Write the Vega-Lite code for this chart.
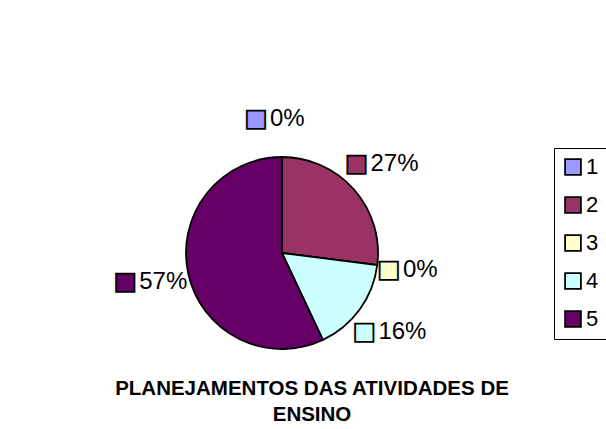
{
  "$schema": "https://vega.github.io/schema/vega-lite/v6.json",
  "width": 564,
  "height": 352,
  "autosize": {"type": "none"},
  "padding": {"left": 0, "top": 77, "right": 42, "bottom": 0},
  "background": "white",
  "config": {"view": {"stroke": null}, "font": "Liberation Sans"},
  "title": {
    "text": ["PLANEJAMENTOS DAS ATIVIDADES DE", "ENSINO"],
    "orient": "bottom",
    "anchor": "middle",
    "frame": "group",
    "offset": -50,
    "dx": 30,
    "fontSize": 20.5,
    "fontWeight": "bold",
    "font": "Liberation Sans",
    "color": "black",
    "lineHeight": 26
  },
  "data": {
    "values": [
      {"categoria": "1", "valor": 0.0},
      {"categoria": "2", "valor": 0.27},
      {"categoria": "3", "valor": 0.0},
      {"categoria": "4", "valor": 0.16},
      {"categoria": "5", "valor": 0.57}
    ]
  },
  "encoding": {
    "theta": {"field": "valor", "type": "quantitative", "stack": true},
    "color": {
      "field": "categoria",
      "type": "nominal",
      "scale": {
        "domain": ["1", "2", "3", "4", "5"],
        "range": ["#9999FF", "#993366", "#FFFFCC", "#CCFFFF", "#660066"]
      },
      "legend": {
        "orient": "none",
        "legendX": 554,
        "legendY": 71,
        "title": null,
        "strokeColor": "black",
        "fillColor": "white",
        "padding": 8,
        "symbolType": "square",
        "symbolSize": 250,
        "symbolStrokeColor": "black",
        "symbolStrokeWidth": 1.8,
        "symbolOpacity": 1,
        "labelFontSize": 22,
        "labelFont": "Liberation Sans",
        "labelColor": "black",
        "labelOffset": 2,
        "rowPadding": 14
      }
    },
    "order": {"field": "categoria", "type": "ordinal"}
  },
  "layer": [
    {"mark": {"type": "arc", "outerRadius": 96, "stroke": "black", "strokeWidth": 1.8}},
    {
      "mark": {
        "type": "text",
        "radius": 134,
        "text": "■",
        "font": "DejaVu Sans",
        "fontSize": 24,
        "stroke": "black",
        "strokeWidth": 1.8,
        "dx": -26,
        "align": "center",
        "baseline": "middle"
      }
    },
    {
      "mark": {
        "type": "text",
        "radius": 134,
        "dx": -12,
        "align": "left",
        "baseline": "middle",
        "fontSize": 24,
        "font": "Liberation Sans"
      },
      "encoding": {
        "text": {"field": "valor", "type": "quantitative", "format": ".0%"},
        "color": {"value": "black"}
      }
    }
  ]
}
